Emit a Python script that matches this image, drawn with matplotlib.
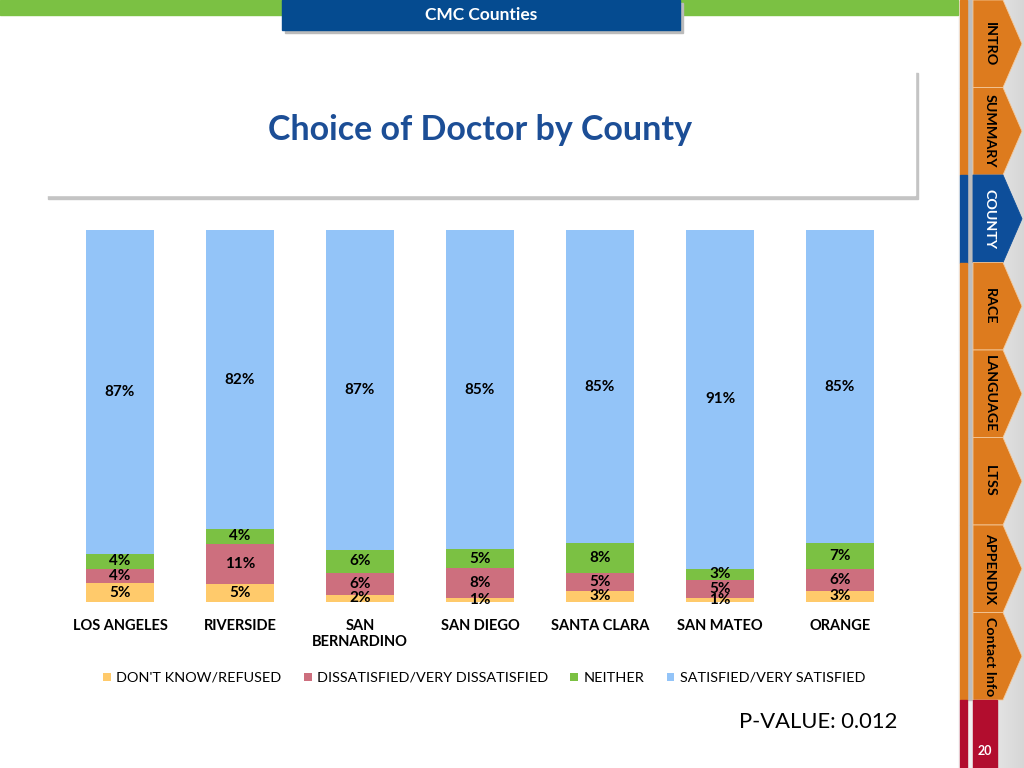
import numpy as np
import matplotlib
matplotlib.use("Agg")
import matplotlib.pyplot as plt
from matplotlib.patches import Rectangle, Polygon

plt.rcParams["font.family"] = ["Lato", "DejaVu Sans"]

counties = ["LOS ANGELES", "RIVERSIDE", "SAN\nBERNARDINO", "SAN DIEGO",
            "SANTA CLARA", "SAN MATEO", "ORANGE"]
dont_know = [5, 5, 2, 1, 3, 1, 3]
dissatisfied = [4, 11, 6, 8, 5, 5, 6]
neither = [4, 4, 6, 5, 8, 3, 7]
satisfied = [87, 82, 87, 85, 85, 91, 85]

series_names = ["DON'T KNOW/REFUSED", "DISSATISFIED/VERY DISSATISFIED",
                "NEITHER", "SATISFIED/VERY SATISFIED"]
series_colors = ["#FFCA6B", "#CD6F7E", "#7BC143", "#93C4F8"]

tabs = ["INTRO", "SUMMARY", "COUNTY", "RACE", "LANGUAGE", "LTSS",
        "APPENDIX", "Contact Info"]
active_tab = "COUNTY"

W, H = 1024, 768
fig = plt.figure(figsize=(W / 100, H / 100), dpi=100)
fig.patch.set_facecolor("white")

# slide decoration in pixel coordinates
deco = fig.add_axes([0, 0, 1, 1])
deco.set_xlim(0, W)
deco.set_ylim(H, 0)
deco.axis("off")

# right sidebar background gradient
grad = np.linspace(0.97, 0.84, 50).reshape(1, -1)
deco.imshow(np.dstack([grad, grad, grad]), extent=[958, 1024, 768, 0],
            aspect="auto", zorder=0)

# top green band and blue header box
deco.add_patch(Rectangle((0, 0), 958, 15, color="#7BC143", zorder=1))
deco.add_patch(Rectangle((285, 3), 398, 30, color="#BBBBBB", zorder=1))
deco.add_patch(Rectangle((282, 0), 398, 30, color="#054B90", zorder=2))
deco.text(481, 15, "CMC Counties", color="white", fontsize=12.5,
          fontweight="bold", ha="center", va="center", zorder=3)

# title box with shadow
deco.add_patch(Rectangle((48, 73), 870, 126, color="#C4C4C4", zorder=1))
deco.add_patch(Rectangle((45, 68), 870, 127, color="white", zorder=2))
deco.text(480, 130, "Choice of Doctor by County", color="#1C4E96",
          fontsize=24.5, fontweight="bold", ha="center", va="center", zorder=3)

# navigation tabs
tab_h = 87.5
for i, name in enumerate(tabs):
    top = i * tab_h
    bot = top + tab_h
    col = "#0D4E9A" if name == active_tab else "#DD7B1E"
    deco.add_patch(Rectangle((960, top), 7, tab_h, color=col, zorder=2))
    shape = [(973, top), (1003, top), (1022, top + tab_h / 2),
             (1003, bot), (973, bot)]
    deco.add_patch(Polygon(shape, closed=True, facecolor=col,
                           edgecolor="#F4C89A" if col != "#0D4E9A" else "#0D4E9A",
                           linewidth=0.6, zorder=2))
    deco.text(990, top + tab_h / 2, name, rotation=-90, fontsize=10.3,
              fontweight="bold", ha="center", va="center",
              color="white" if name == active_tab else "black", zorder=3)
deco.add_patch(Rectangle((967.5, 0), 4, 700, color="#BDBDBD", zorder=1))

# page number box
deco.add_patch(Rectangle((960, 700), 7, 68, color="#B20D2E", zorder=2))
deco.add_patch(Rectangle((973, 700), 24, 68, color="#B20D2E", zorder=2))
deco.text(985, 751, "20", color="white", fontsize=9, fontweight="bold",
          ha="center", va="center", zorder=3)

# main chart
ax = fig.add_axes([60 / W, 1 - 602 / H, 840 / W, 372 / H])
x = np.arange(len(counties))
data = np.array([dont_know, dissatisfied, neither, satisfied], dtype=float)
totals = data.sum(axis=0)
shares = data / totals * 100

bottom = np.zeros(len(counties))
for vals, shr, name, col in zip(data, shares, series_names, series_colors):
    ax.bar(x, shr, bottom=bottom, width=0.57, color=col, label=name)
    for xi, b, s, v in zip(x, bottom, shr, vals):
        ax.text(xi, b + s / 2, f"{v:.0f}%", ha="center", va="center",
                fontsize=11, fontweight="bold", color="black")
    bottom += shr

ax.set_xlim(-0.5, len(counties) - 0.5)
ax.set_ylim(0, 100)
ax.set_yticks([])
ax.set_xticks(x)
ax.set_xticklabels(counties, fontsize=10.5, fontweight="bold")
ax.tick_params(axis="x", length=0, pad=12)
for s in ax.spines.values():
    s.set_visible(False)

fig.legend(loc="center", bbox_to_anchor=(484 / W, 1 - 678 / H), ncol=4,
           frameon=False, fontsize=10.4, handlelength=0.55, handleheight=0.55,
           handletextpad=0.35, columnspacing=1.55)

fig.text(897 / W, 1 - 722 / H, "P-VALUE: 0.012", fontsize=15.8,
         ha="right", va="center")

fig.savefig("out.png", dpi=100)
